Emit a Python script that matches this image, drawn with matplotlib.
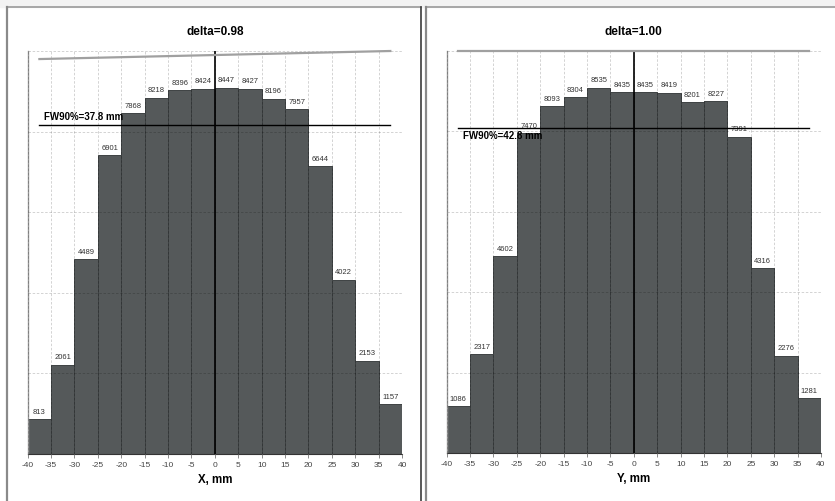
import numpy as np
import matplotlib.pyplot as plt
from matplotlib.lines import Line2D

plt.rcParams['font.family'] = ['Liberation Sans', 'DejaVu Sans']

# bin edges of the beam profile histograms, mm
edges = np.arange(-40, 45, 5)
counts_x = [813, 2061, 4489, 6901, 7868, 8218, 8396, 8424,
            8447, 8427, 8196, 7957, 6644, 4022, 2153, 1157]
counts_y = [1086, 2317, 4602, 7470, 8093, 8304, 8535, 8435,
            8435, 8419, 8201, 8227, 7391, 4316, 2276, 1281]
deltas = [0.98, 1.00]
fw90 = [37.8, 42.8]
axis_names = ['X, mm', 'Y, mm']

W, H = 835, 502
fig = plt.figure(figsize=(W / 100, H / 100), dpi=100)
fig.patch.set_facecolor('white')


def px_line(x0, y0, x1, y1, color, lw):
    # line in figure pixel coordinates (y from top)
    fig.add_artist(Line2D([x0 / W, x1 / W], [1 - y0 / H, 1 - y1 / H],
                          color=color, lw=lw, transform=fig.transFigure))


# panel frames
fig.add_artist(plt.Rectangle((0, 1 - 8 / H), 1, 8 / H, color='#f3f3f3',
                             transform=fig.transFigure, zorder=0))
px_line(7, 8, 421, 8, '#9a9a9a', 1.2)
px_line(7, 8, 7, 502, '#8a8a8a', 1.6)
px_line(421, 8, 421, 502, '#3c3c3c', 1.2)
px_line(426, 8, 835, 8, '#9a9a9a', 1.2)
px_line(426, 8, 426, 502, '#8a8a8a', 1.6)


def draw_panel(ax, counts, delta, fw, name, text_above):
    counts = np.asarray(counts)
    centers = edges[:-1] + 2.5
    ymax = 1.1 * counts.max()

    ax.bar(centers, counts, width=5, color='#55595a', edgecolor='#3e4243',
           linewidth=0.7, zorder=2)
    ax.set_xlim(-40, 40)
    ax.set_ylim(0, ymax)
    ax.set_xticks(edges)
    ax.set_xticklabels([str(e) for e in edges])
    ax.set_yticks(np.linspace(0, ymax, 6))
    ax.tick_params(axis='y', left=False, labelleft=False)
    ax.tick_params(axis='x', length=3, width=0.6, color='#777777',
                   labelsize=6, labelcolor='#444444', pad=2)
    ax.grid(True, color='black', alpha=0.2, linestyle=(0, (3, 2)),
            linewidth=0.6)
    ax.set_axisbelow(False)
    for s in ['top', 'right']:
        ax.spines[s].set_visible(False)
    ax.spines['left'].set_color('#999999')
    ax.spines['left'].set_linewidth(1.0)
    ax.spines['bottom'].set_color('#333333')
    ax.spines['bottom'].set_linewidth(0.8)

    for c, v in zip(centers, counts):
        ax.annotate(str(v), (c, v), xytext=(0, 3), textcoords='offset points',
                    ha='center', va='bottom', fontsize=5.5, color='#333333',
                    bbox=dict(fc='white', ec='none', pad=0.8), zorder=4)

    ax.axvline(0, color='black', lw=1.2, zorder=5)
    # tilt line: left end scaled by delta
    ax.plot([-37.5, 37.5], [delta * ymax, ymax], color='#a0a0a0', lw=1.6,
            clip_on=False, zorder=5)
    # 90% level of the central bins
    level = 0.9 * counts[7:9].mean()
    ax.plot([-37.5, 37.5], [level, level], color='black', lw=1.0, zorder=6)
    if text_above:
        ax.annotate(f'FW90%={fw:.1f} mm', (-36.5, level), xytext=(0, 3),
                    textcoords='offset points', va='bottom', fontsize=7,
                    fontweight='bold', zorder=7)
    else:
        ax.annotate(f'FW90%={fw:.1f} mm', (-36.5, level), xytext=(0, -1.5),
                    textcoords='offset points', va='top', fontsize=7,
                    fontweight='bold', zorder=7)

    ax.set_title(f'delta={delta:.2f}', fontweight='bold', fontsize=8.5, pad=12)
    ax.set_xlabel(name, fontweight='bold', fontsize=8.3, labelpad=4)


ax1 = fig.add_axes([27.7 / W, 47 / H, (402 - 27.7) / W, 403 / H])
ax2 = fig.add_axes([446.7 / W, 48 / H, (821 - 446.7) / W, 402 / H])
draw_panel(ax1, counts_x, deltas[0], fw90[0], axis_names[0], True)
draw_panel(ax2, counts_y, deltas[1], fw90[1], axis_names[1], False)

fig.savefig('out.png', dpi=100)
